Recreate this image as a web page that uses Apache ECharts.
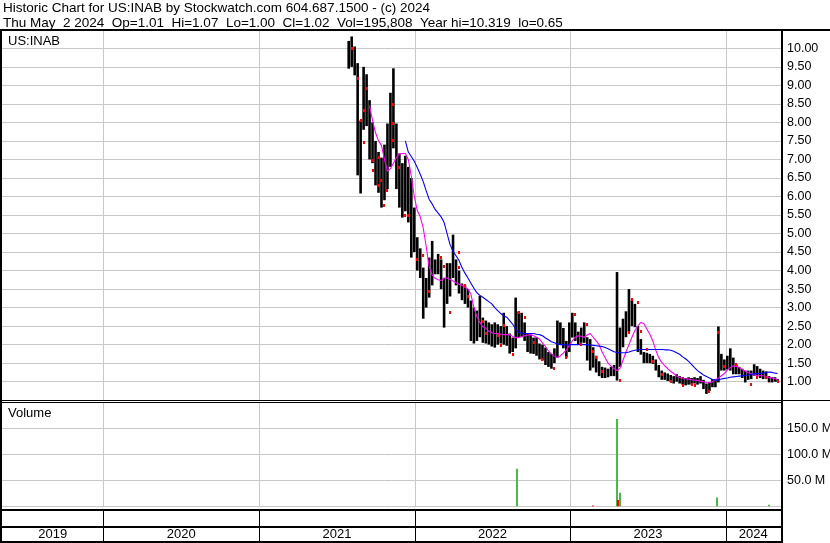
<!DOCTYPE html>
<html><head><meta charset="utf-8">
<script src="https://cdn.jsdelivr.net/npm/echarts@6/dist/echarts.min.js"></script>
<style>html,body{margin:0;padding:0;background:#fff}#c{width:830px;height:543px}</style>
</head><body><div id="c"></div>
<script>
// ---------- DATA ----------
const titleLine1 = 'Historic Chart for US:INAB by Stockwatch.com 604.687.1500 - (c) 2024';
const titleLine2 = 'Thu May  2 2024  Op=1.01  Hi=1.07  Lo=1.00  Cl=1.02  Vol=195,808  Year hi=10.319  lo=0.65';
const symbolLabel = 'US:INAB';
const volumeLabel = 'Volume';

const weekStart = '2021-07-30';   // first weekly bar
const lastDate = '2024-05-02';    // last bar
const xMin = '2019-05-08';
const xMax = '2024-05-10';

const priceHigh = [
 10.2,10.32,10.05,9.6,8.05,9.5,9.3,8.6,8.0,7.5,
 7.2,7.05,7.4,7.97,8.8,9.46,7.97,7.16,6.9,7.1,
 6.8,6.5,5.7,4.9,4.6,4.08,3.8,4.35,4.8,4.3,
 4.45,4.3,3.8,4.2,4.2,4.97,4.3,4.0,3.65,3.6,
 3.5,3.19,3.0,2.92,3.32,2.73,2.65,2.6,2.55,2.6,
 2.55,2.5,2.86,2.5,2.3,2.19,3.27,2.9,2.86,2.6,
 2.3,2.27,2.19,2.2,2.03,2.0,1.92,1.8,1.75,1.9,
 2.65,2.6,2.45,2.1,2.6,2.86,2.6,2.35,2.46,2.6,
 2.2,2.15,1.93,1.7,1.55,1.4,1.38,1.35,1.4,1.45,
 3.96,2.46,2.7,2.9,3.5,3.2,3.1,2.5,2.15,1.8,
 1.78,1.75,1.7,1.6,1.45,1.3,1.25,1.22,1.18,1.15,
 1.2,1.15,1.12,1.1,1.12,1.1,1.12,1.1,1.15,1.05,
 0.95,0.98,1.07,1.07,2.49,1.75,1.6,1.7,1.9,1.65,
 1.47,1.4,1.35,1.3,1.3,1.3,1.47,1.42,1.35,1.3,
 1.28,1.15,1.12,1.12,1.07
];
const priceLow = [
 9.45,9.5,9.27,6.57,6.08,7.8,7.9,7.0,6.9,6.3,
 6.1,5.7,5.9,6.2,6.8,7.3,6.2,5.7,5.43,5.6,
 5.3,4.35,4.5,4.0,3.8,2.7,3.0,3.27,3.6,3.9,
 3.9,3.5,2.46,3.1,3.3,3.8,3.6,3.38,3.2,3.1,
 3.0,2.1,2.03,2.1,2.2,2.05,2.03,2.0,1.95,1.92,
 2.0,2.03,2.0,1.97,1.76,1.8,1.9,2.2,2.2,2.1,
 1.8,1.76,1.75,1.7,1.6,1.57,1.45,1.4,1.35,1.5,
 1.65,2.0,1.9,1.65,1.8,2.19,2.1,2.0,2.05,2.05,
 1.57,1.3,1.38,1.25,1.15,1.1,1.1,1.12,1.15,1.15,
 1.03,1.4,1.93,2.2,2.35,2.5,2.47,1.8,1.73,1.5,
 1.5,1.5,1.48,1.3,1.12,1.05,1.05,1.02,1.0,0.95,
 1.0,0.95,0.92,0.9,0.92,0.92,0.95,0.92,0.95,0.8,
 0.67,0.75,0.85,0.85,0.98,1.3,1.3,1.33,1.3,1.2,
 1.2,1.2,1.1,0.98,1.05,1.07,1.16,1.15,1.1,1.07,
 1.07,0.98,0.98,1.0,1.0
];

// red close marks: bar index and price
const redBar = [1,3,4,5,5,6,8,8,10,10,11,12,13,15,15,15,17,19,20,23,
                25,27,31,32,34,37,37,39,40,45,46,50,51,52,55,57,59,62,65,69,
                73,76,78,80,82,83,85,91,94,95,97,98,100,102,105,108,112,115,116,121,
                124,126,130,135,137,140,144];
const redVal = [10.0,9.19,8.06,7.48,8.33,8.92,6.98,6.71,7.07,6.31,6.44,5.77,6.17,7.99,8.51,7.52,6.8,5.49,5.49,4.3,
                4.43,3.46,4.36,4.11,2.87,4.5,4.09,3.61,3.32,2.65,2.32,2.27,2.0,2.54,1.75,2.87,2.74,2.06,1.61,1.37,
                1.66,2.83,2.02,2.56,1.84,1.66,1.3,1.05,2.33,3.24,3.14,2.38,1.88,1.57,1.21,1.03,0.92,0.94,0.92,0.76,
                2.33,1.43,1.48,0.94,1.12,1.12,1.01];

const maShortStart = 7;   // magenta moving average, starts at bar 7
const maShort = [
 8.45,8.05,7.72,
 7.5,7.38,7.0,6.68,6.75,6.9,7.05,7.15,7.16,7.16,
 7.0,6.55,6.0,5.62,5.45,5.15,4.65,4.1,3.88,3.79,
 3.75,3.73,3.8,3.8,3.76,3.72,3.67,3.63,3.6,3.55,
 3.5,3.36,3.0,2.76,2.6,2.48,2.44,2.36,2.32,2.3,
 2.3,2.28,2.27,2.27,2.27,2.22,2.19,2.19,2.22,2.24,
 2.26,2.27,2.24,2.2,2.15,2.05,1.95,1.83,1.75,1.69,
 1.65,1.7,1.77,1.86,1.98,2.1,2.2,2.24,2.22,2.2,
 2.26,2.3,2.2,2.1,2.0,1.8,1.65,1.5,1.42,1.35,
 1.3,1.36,1.58,1.8,2.0,2.2,2.38,2.51,2.6,2.57,
 2.42,2.28,2.1,1.85,1.65,1.52,1.43,1.35,1.28,1.22,
 1.15,1.11,1.1,1.08,1.07,1.05,1.04,1.03,1.01,1.0,
 0.98,0.97,1.0,1.05,1.1,1.16,1.22,1.32,1.38,1.43,
 1.41,1.38,1.33,1.28,1.24,1.22,1.19,1.16,1.16,1.16,
 1.14,1.11,1.1,1.08,1.05
];
const maLongStart = 19;   // blue moving average, starts at bar 19
const maLong = [
 7.5,
 7.2,7.08,6.95,6.78,6.6,6.4,6.15,5.92,5.8,5.65,
 5.55,5.45,5.3,5.0,4.7,4.52,4.4,4.27,4.08,3.93,
 3.8,3.66,3.52,3.4,3.33,3.28,3.22,3.16,3.1,3.0,
 2.92,2.84,2.78,2.74,2.65,2.55,2.42,2.33,2.31,2.3,
 2.3,2.3,2.3,2.28,2.27,2.24,2.18,2.13,2.08,2.05,
 2.02,2.0,2.0,1.99,2.0,2.0,2.0,2.0,2.0,2.0,
 2.0,1.99,1.98,1.97,1.96,1.95,1.92,1.89,1.85,1.81,
 1.79,1.78,1.78,1.78,1.8,1.83,1.85,1.86,1.87,1.87,
 1.87,1.87,1.87,1.87,1.87,1.87,1.86,1.86,1.85,1.82,
 1.78,1.74,1.67,1.62,1.55,1.47,1.38,1.3,1.24,1.18,
 1.14,1.1,1.06,1.04,1.05,1.07,1.09,1.1,1.12,1.13,
 1.14,1.15,1.16,1.17,1.18,1.2,1.21,1.22,1.22,1.23,
 1.25,1.26,1.25,1.23,1.22
];

const volDates  = ['2022-08-29','2023-02-24','2023-04-21','2023-04-24','2023-04-27','2023-12-12','2024-04-11'];
const volValues = [72e6, 1.5e6, 168e6, 12e6, 26e6, 17e6, 3e6];
const volUp     = [1, 0, 1, 0, 1, 1, 1];
const volTicks  = [50e6, 100e6, 150e6];

const yearStarts = ['2020-01-01','2021-01-01','2022-01-01','2023-01-01','2024-01-01'];
const yearLabels = ['2019','2020','2021','2022','2023','2024'];

const priceMin = 0.5, priceMax = 10.5, priceStep = 0.5;
const volMax = 200e6, volStep = 50e6;

// ---------- BUILD ----------
const DAY = 86400000;
const toTs = s => { const p = s.split('-').map(Number); return Date.UTC(p[0], p[1]-1, p[2]); };
const dates = priceHigh.map((_, i) => i === priceHigh.length - 1 ? toTs(lastDate) : toTs(weekStart) + 7 * i * DAY);
const tMin = toTs(xMin), tMax = toTs(xMax);
const bounds = [tMin].concat(yearStarts.map(toTs), [tMax]);
const yearMids = yearLabels.map((y, i) => [(bounds[i] + bounds[i+1]) / 2, 0.25]);

const FONT = "'Liberation Sans', Arial, sans-serif";
const GRID_GRAY = '#c8c8c8';

function vLines(idx, color) {
  return {
    type: 'custom', xAxisIndex: idx, yAxisIndex: idx, silent: true, z: 1,
    data: yearStarts.map(d => [toTs(d), 0]),
    renderItem: (params, api) => {
      const cs = params.coordSys;
      const x = Math.round(api.coord([api.value(0), 0])[0]) + 0.5;
      return { type: 'line', shape: { x1: x, y1: cs.y, x2: x, y2: cs.y + cs.height },
               style: { stroke: color, lineWidth: 1 } };
    }
  };
}

const xAxisBase = { type: 'time', min: tMin, max: tMax, show: false };

const option = {
  animation: false,
  backgroundColor: '#fff',
  grid: [
    { left: 2, right: 49, top: 29.8, height: 370.4 },
    { left: 2, right: 49, top: 402.3, height: 104 },
    { left: 2, right: 49, top: 510, height: 33 }
  ],
  xAxis: [
    Object.assign({ gridIndex: 0 }, xAxisBase),
    Object.assign({ gridIndex: 1 }, xAxisBase),
    Object.assign({ gridIndex: 2 }, xAxisBase)
  ],
  yAxis: [
    { gridIndex: 0, type: 'value', position: 'right', min: priceMin, max: priceMax, interval: priceStep,
      axisLine: { show: false }, axisTick: { show: false },
      splitLine: { lineStyle: { color: GRID_GRAY, width: 1 } },
      axisLabel: { margin: 6, color: '#000', fontSize: 12.5, fontFamily: FONT,
        formatter: v => (v < priceMin + 0.25 || v > priceMax - 0.25) ? '' : v.toFixed(2) } },
    { gridIndex: 1, type: 'value', position: 'right', min: 0, max: volMax, interval: volStep,
      axisLine: { show: false }, axisTick: { show: false },
      splitLine: { lineStyle: { color: GRID_GRAY, width: 1 } },
      axisLabel: { show: false } },
    { gridIndex: 2, type: 'value', min: 0, max: 1, show: false }
  ],
  series: [
    vLines(0, GRID_GRAY),
    vLines(1, GRID_GRAY),
    vLines(2, '#000'),
    { type: 'custom', xAxisIndex: 0, yAxisIndex: 0, z: 3, silent: true,
      encode: { x: 0, y: [1, 2] },
      data: dates.map((d, i) => [d, priceLow[i], priceHigh[i]]),
      renderItem: (params, api) => {
        const t = api.value(0);
        const pTop = api.coord([t, api.value(2)]);
        const pBot = api.coord([t, api.value(1)]);
        return { type: 'rect', shape: { x: pTop[0] - 1.3, y: pTop[1], width: 2.6, height: Math.max(1, pBot[1] - pTop[1]) },
                 style: { fill: '#000' } };
      } },
    { type: 'custom', xAxisIndex: 0, yAxisIndex: 0, z: 5, silent: true,
      encode: { x: 0, y: 1 },
      data: redBar.map((b, k) => [dates[b], redVal[k]]),
      renderItem: (params, api) => {
        const p = api.coord([api.value(0), api.value(1)]);
        return { type: 'rect', shape: { x: Math.round(p[0]) - 1, y: Math.round(p[1]) - 1, width: 2, height: 3 },
                 style: { fill: '#ff0000' } };
      } },
    { type: 'line', xAxisIndex: 0, yAxisIndex: 0, z: 4, showSymbol: false, silent: true,
      data: maShort.map((v, k) => [dates[maShortStart + k], v]),
      lineStyle: { color: '#ff00ff', width: 1.1 } },
    { type: 'line', xAxisIndex: 0, yAxisIndex: 0, z: 4, showSymbol: false, silent: true,
      data: maLong.map((v, k) => [dates[maLongStart + k], v]),
      lineStyle: { color: '#0000ff', width: 1.1 } },
    { type: 'custom', xAxisIndex: 1, yAxisIndex: 1, z: 3, silent: true,
      encode: { x: 0, y: 1 },
      data: volDates.map((d, i) => [toTs(d), volValues[i], volUp[i]]),
      renderItem: (params, api) => {
        const t = api.value(0);
        const pTop = api.coord([t, api.value(1)]);
        const pBot = api.coord([t, 0]);
        return { type: 'rect', shape: { x: Math.round(pTop[0]) - 1, y: pTop[1], width: 2, height: pBot[1] - pTop[1] },
                 style: { fill: api.value(2) ? '#4cb84c' : '#ff0000' } };
      } },
    // volume tick labels (drawn at the right edge of the volume panel)
    { type: 'custom', xAxisIndex: 1, yAxisIndex: 1, z: 6, silent: true, clip: false,
      encode: { x: 0, y: 1 },
      data: volTicks.map(v => [tMax, v]),
      renderItem: (params, api) => {
        const p = api.coord([api.value(0), api.value(1)]);
        return { type: 'text', x: p[0] + 6, y: p[1],
                 style: { text: (api.value(1) / 1e6).toFixed(1) + ' M', fill: '#000', font: '12.5px ' + FONT,
                          align: 'left', verticalAlign: 'middle' } };
      } },
    { type: 'custom', xAxisIndex: 2, yAxisIndex: 2, z: 3, silent: true,
      encode: { x: 0, y: 1 },
      data: yearMids,
      renderItem: (params, api) => {
        const p = api.coord([api.value(0), api.value(1)]);
        return { type: 'text', x: p[0], y: p[1],
                 style: { text: yearLabels[params.dataIndex], fill: '#000', font: '13px ' + FONT,
                          align: 'center', verticalAlign: 'middle' } };
      } }
  ],
  graphic: [
    { type: 'text', x: 3, y: 8.5, z: 100, style: { text: titleLine1, fill: '#000', font: '13.5px ' + FONT, verticalAlign: 'middle' } },
    { type: 'text', x: 3, y: 23, z: 100, style: { text: titleLine2, fill: '#000', font: '13.5px ' + FONT, verticalAlign: 'middle' } },
    { type: 'text', x: 8, y: 41, z: 100, style: { text: symbolLabel, fill: '#000', font: '13px ' + FONT, verticalAlign: 'middle' } },
    { type: 'text', x: 8, y: 413, z: 100, style: { text: volumeLabel, fill: '#000', font: '13px ' + FONT, verticalAlign: 'middle' } },
    // frame lines
    { type: 'rect', z: 100, shape: { x: 0, y: 29, width: 830, height: 2 }, style: { fill: '#000' } },
    { type: 'rect', z: 100, shape: { x: 0, y: 400, width: 830, height: 1 }, style: { fill: '#000' } },
    { type: 'rect', z: 100, shape: { x: 0, y: 402, width: 783, height: 1 }, style: { fill: '#000' } },
    { type: 'rect', z: 100, shape: { x: 0, y: 509, width: 783, height: 2 }, style: { fill: '#000' } },
    { type: 'rect', z: 100, shape: { x: 0, y: 526, width: 783, height: 2 }, style: { fill: '#000' } },
    { type: 'rect', z: 100, shape: { x: 0, y: 541, width: 783, height: 2 }, style: { fill: '#000' } },
    { type: 'rect', z: 100, shape: { x: 0, y: 29, width: 2, height: 514 }, style: { fill: '#000' } },
    { type: 'rect', z: 100, shape: { x: 781, y: 29, width: 2, height: 514 }, style: { fill: '#000' } }
  ]
};

const chart = echarts.init(document.getElementById('c'), null, { renderer: 'canvas' });
chart.setOption(option);
</script>
</body></html>
